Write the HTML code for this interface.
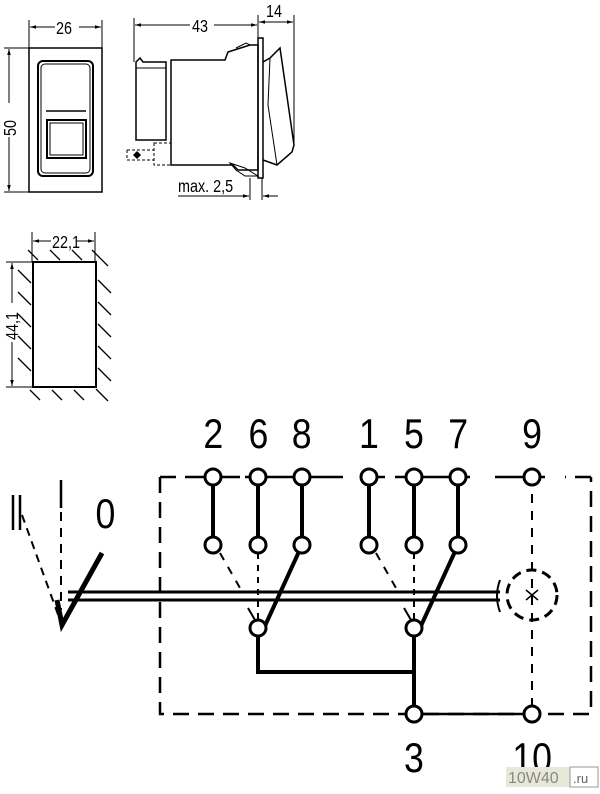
<!DOCTYPE html>
<html><head><meta charset="utf-8"><style>
html,body{margin:0;padding:0;background:#fff;}
svg{display:block;font-family:"Liberation Sans",sans-serif;}
</style></head><body>
<svg width="600" height="794" viewBox="0 0 600 794" xmlns="http://www.w3.org/2000/svg">
<defs>
<marker id="a" viewBox="0 0 10 10" refX="10" refY="5" markerWidth="6" markerHeight="6" orient="auto-start-reverse"><path d="M0,2 L10,5 L0,8 z" fill="#000"/></marker>
</defs>
<g stroke="#000" fill="none" stroke-width="1.5">
<rect x="29" y="48" width="73" height="144"/>
<rect x="38" y="61" width="55" height="115" rx="5" stroke-width="2"/>
<rect x="41" y="64" width="49" height="109" rx="4" stroke-width="1"/>
<line x1="46" y1="111" x2="86" y2="111" stroke-width="1.5"/>
<rect x="47" y="120" width="39" height="38" stroke-width="2"/>
<rect x="50" y="123" width="33" height="32" stroke-width="1"/>
<line x1="29" y1="20" x2="29" y2="48" stroke-width="1"/>
<line x1="102" y1="20" x2="102" y2="48" stroke-width="1"/>
<line x1="30" y1="27" x2="55" y2="27" stroke-width="1" marker-start="url(#a)"/>
<line x1="79" y1="27" x2="101" y2="27" stroke-width="1" marker-end="url(#a)"/>
<line x1="4" y1="48" x2="29" y2="48" stroke-width="1"/>
<line x1="4" y1="192" x2="29" y2="192" stroke-width="1"/>
<line x1="9" y1="49" x2="9" y2="103" stroke-width="1" marker-start="url(#a)"/>
<line x1="9" y1="137" x2="9" y2="191" stroke-width="1" marker-end="url(#a)"/>
<path d="M136,62 L140,58 L143,62 L166,62 L166,140 L136,140 Z"/>
<line x1="136" y1="68" x2="166" y2="68" stroke-width="1"/>
<path d="M171,60 L225,60 L228,52 L250,45 L258,45 L258,170 L238,170 L233,165 L171,165 Z"/>
<path d="M236,48 L246,43 L250,45" stroke-width="1"/>
<rect x="258" y="38" width="5" height="140" stroke-width="1.5"/>
<path d="M263,62 L270,58 L280,48 L294,145 L292,152 L277,165 L263,160" stroke-width="1.5"/>
<path d="M270,58 L268,105 L277,165" stroke-width="1"/>
<path d="M230,163 L245,168 L258,176 L245,176 L236,170 Z" stroke-width="1"/>
<path d="M127,150 L154,150 M127,150 L127,160 L154,160" stroke-dasharray="3,2" stroke-width="1"/>
<rect x="154" y="143" width="17" height="22" stroke-dasharray="3,2" stroke-width="1"/>
<path d="M134,155 L137,152 L140,155 L137,158 Z" fill="#000"/>
<line x1="134" y1="18" x2="134" y2="62" stroke-width="1"/>
<line x1="294" y1="15" x2="294" y2="145" stroke-width="1"/>
<line x1="258" y1="15" x2="258" y2="38" stroke-width="1"/>
<line x1="135" y1="25" x2="190" y2="25" stroke-width="1" marker-start="url(#a)"/>
<line x1="214" y1="25" x2="257" y2="25" stroke-width="1" marker-end="url(#a)"/>
<line x1="259" y1="22" x2="293" y2="22" stroke-width="1" marker-start="url(#a)" marker-end="url(#a)"/>
<line x1="250" y1="178" x2="250" y2="200" stroke-width="1"/>
<line x1="262" y1="178" x2="262" y2="200" stroke-width="1"/>
<line x1="178" y1="196" x2="249" y2="196" stroke-width="1" marker-end="url(#a)"/>
<line x1="278" y1="196" x2="263" y2="196" stroke-width="1" marker-end="url(#a)"/>
<rect x="33" y="262" width="63" height="125" stroke-width="2"/>
<line x1="32" y1="232" x2="32" y2="262" stroke-width="1"/>
<line x1="95" y1="232" x2="95" y2="262" stroke-width="1"/>
<line x1="33" y1="241" x2="51" y2="241" stroke-width="1" marker-start="url(#a)"/>
<line x1="76" y1="241" x2="94" y2="241" stroke-width="1" marker-end="url(#a)"/>
<line x1="6" y1="262" x2="33" y2="262" stroke-width="1"/>
<line x1="6" y1="387" x2="33" y2="387" stroke-width="1"/>
<line x1="12" y1="263" x2="12" y2="303" stroke-width="1" marker-start="url(#a)"/>
<line x1="12" y1="342" x2="12" y2="386" stroke-width="1" marker-end="url(#a)"/>
<g stroke-width="1.3">
<path d="M28,250 L38,260 M50,250 L60,260 M72,250 L82,260 M92,250 L108,266"/>
<path d="M18,270 L31,283 M18,292 L31,305 M18,314 L31,327 M18,336 L31,349 M18,358 L31,371"/>
<path d="M98,280 L111,293 M98,302 L111,315 M98,324 L111,337 M98,346 L111,359 M98,368 L111,381"/>
<path d="M30,390 L40,400 M52,390 L62,400 M74,390 L84,400 M96,389 L108,401"/>
</g>
</g>
<g font-size="18" fill="#000">
<text transform="translate(56,34) scale(0.8,1)">26</text>
<text transform="translate(192,32) scale(0.8,1)">43</text>
<text transform="translate(266,17) scale(0.8,1)">14</text>
<text transform="translate(178,192) scale(0.8,1)">max. 2,5</text>
<text transform="translate(52,248) scale(0.8,1)">22,1</text>
<text transform="translate(16,136) rotate(-90) scale(0.8,1)">50</text>
<text transform="translate(18,340) rotate(-90) scale(0.8,1)">44,1</text>
</g>
<g stroke="#000" fill="none">
<path d="M160,477 L160,714 L591,714 L591,477" stroke-width="2.5" stroke-dasharray="16,9"/>
<path d="M160,477 L200,477 M591,477 L565,477" stroke-width="2.5" stroke-dasharray="16,9"/>
<path d="M200,477 L240,477 M245,477 L320,477 M280,477 L343,477 M360,477 L385,477 M395,477 L470,477 M495,477 L545,477" stroke-width="2.5"/>
<path d="M532,477 L532,714" stroke-width="2" stroke-dasharray="9,8"/>
<path d="M414,714 L532,714" stroke-width="2.5"/>
<g stroke-width="4">
<path d="M213,477 L213,545 M258,477 L258,545 M302,477 L302,545 M369,477 L369,545 M414,477 L414,545 M458,477 L458,545"/>
<path d="M302,545 L264,628 M458,545 L420,628"/>
<path d="M258,628 L258,672 L414,672 L414,714 M414,628 L414,672"/>
</g>
<g stroke-width="2">
<path d="M220,553 L240,588" stroke-dasharray="8,8"/>
<path d="M376,553 L396,588" stroke-dasharray="8,8"/>
<path d="M258,553 L258,620" stroke-dasharray="6,6"/>
<path d="M414,553 L414,620" stroke-dasharray="6,6"/>
<path d="M248,608 L255,620 M404,608 L411,620"/>
<path d="M68,592 L500,592 M68,600 L500,600" stroke-width="3"/>
<path d="M22,515 L60,620" stroke-dasharray="8,6"/>
<path d="M61,480 L61,610" stroke-dasharray="9,7"/>
<path d="M500,580 Q494,596 500,612"/>
</g>
<path d="M102,553 L62,625 L57,600" stroke-width="5"/>
<circle cx="532" cy="595" r="25" stroke-width="3" stroke-dasharray="10,6"/>
<path d="M526,590 L538,600 M538,590 L526,600" stroke-width="1.5"/>
<g fill="#fff" stroke-width="3">
<circle cx="213" cy="477" r="8"/><circle cx="258" cy="477" r="8"/><circle cx="302" cy="477" r="8"/>
<circle cx="369" cy="477" r="8"/><circle cx="414" cy="477" r="8"/><circle cx="458" cy="477" r="8"/><circle cx="532" cy="477" r="8"/>
<circle cx="213" cy="545" r="8"/><circle cx="258" cy="545" r="8"/><circle cx="302" cy="545" r="8"/>
<circle cx="369" cy="545" r="8"/><circle cx="414" cy="545" r="8"/><circle cx="458" cy="545" r="8"/>
<circle cx="258" cy="628" r="8"/><circle cx="414" cy="628" r="8"/>
<circle cx="414" cy="714" r="8"/><circle cx="532" cy="714" r="8"/>
</g>
</g>
<g font-size="42" fill="#000" text-anchor="middle" transform="scale(0.85,1)">
<text x="251" y="448">2</text><text x="304" y="448">6</text><text x="355" y="448">8</text>
<text x="434" y="448">1</text><text x="487" y="448">5</text><text x="539" y="448">7</text>
<text x="626" y="448">9</text>
<text x="124" y="528">0</text>
<text x="487" y="772">3</text><text x="626" y="772">10</text>
</g>
<g stroke="#000" stroke-width="2.5"><path d="M13,495 L13,530 M20,495 L20,530 M61,480 L61,508"/></g>
<rect x="506" y="767" width="64" height="20" fill="#e8e8d8"/>
<text x="508" y="783" font-size="16" fill="#888">10W40</text>
<rect x="570" y="767" width="28" height="20" fill="#fff" stroke="#999"/>
<text x="573" y="783" font-size="13" fill="#666">.ru</text>
</svg>
</body></html>
